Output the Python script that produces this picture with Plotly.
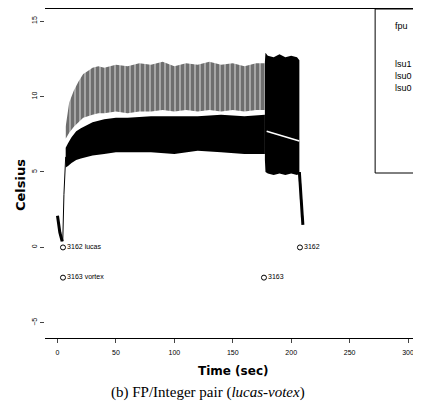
import plotly.graph_objects as go

# upper "spiky" layer (fpu samples), before vortex ends
t_upper = [7, 10, 14, 18, 22, 26, 30, 35, 40, 50, 60, 70, 80, 90, 100, 110, 120, 130, 140, 150, 160, 170, 177.5]
upper_top = [8.0, 9.6, 10.4, 11.0, 11.5, 11.7, 11.9, 12.0, 11.9, 12.1, 12.0, 12.2, 12.1, 12.3, 12.0, 12.2, 12.1, 12.3, 12.1, 12.2, 12.0, 12.2, 12.2]
upper_bottom = [7.2, 7.6, 8.0, 8.3, 8.6, 8.7, 8.8, 8.9, 8.9, 9.0, 8.9, 9.0, 9.0, 9.1, 9.0, 9.1, 9.0, 9.1, 9.0, 9.1, 9.0, 9.1, 9.1]

# lower dense band (lsu samples)
t_lower = [7, 9, 12, 16, 20, 25, 30, 40, 50, 60, 80, 100, 120, 140, 160, 177.5]
lower_top = [6.6, 6.9, 7.3, 7.7, 7.9, 8.1, 8.3, 8.5, 8.6, 8.6, 8.7, 8.7, 8.7, 8.8, 8.7, 8.8]
lower_bottom = [5.3, 5.4, 5.6, 5.8, 5.9, 6.0, 6.1, 6.2, 6.3, 6.3, 6.3, 6.2, 6.4, 6.3, 6.2, 6.2]

# lucas alone (after vortex exits)
t_solo = [177.5, 178, 180, 185, 190, 195, 200, 205, 207]
solo_top = [12.3, 12.9, 12.7, 12.6, 12.8, 12.6, 12.7, 12.6, 12.4]
solo_bottom = [5.8, 5.0, 4.9, 4.8, 4.9, 4.8, 4.9, 4.8, 4.9]
streak_t = [179, 207]
streak_T = [7.7, 7.05]

# warm-up / cool-down traces
spike_t = [0, 2, 4]
spike_T = [2.1, 1.0, 0.4]
rise_t = [4.5, 5.5, 7]
rise_T = [0.4, 3.5, 6.0]
tail_t = [207, 208, 209, 210]
tail_T = [5.0, 3.6, 2.5, 1.5]

# process start / end markers
event_t = [4.7, 4.7, 207.5, 176.7]
event_T = [0, -2, 0, -2]
event_label = ["3162 lucas", "3163 vortex", "3162", "3163"]

legend_names = ["fpu", "lsu1", "lsu0", "lsu0"]
legend_y = [0.948, 0.833, 0.796, 0.760]


def band(t, top, bottom):
    return list(t) + list(t)[::-1], list(top) + list(bottom)[::-1]


fig = go.Figure()

bx, by = band(t_upper, upper_top, upper_bottom)
fig.add_trace(go.Scatter(x=bx, y=by, fill="toself", mode="none", fillcolor="rgba(0,0,0,0)",
                         fillpattern=dict(shape="|", fgcolor="black", bgcolor="#dddddd", size=5, solidity=0.8),
                         showlegend=False))
bx, by = band(t_lower, lower_top, lower_bottom)
fig.add_trace(go.Scatter(x=bx, y=by, fill="toself", mode="none", fillcolor="black", showlegend=False))
bx, by = band(t_solo, solo_top, solo_bottom)
fig.add_trace(go.Scatter(x=bx, y=by, fill="toself", mode="none", fillcolor="black", showlegend=False))
fig.add_trace(go.Scatter(x=streak_t, y=streak_T, mode="lines", line=dict(color="white", width=1.5), showlegend=False))

fig.add_trace(go.Scatter(x=spike_t, y=spike_T, mode="lines", line=dict(color="black", width=3), showlegend=False))
fig.add_trace(go.Scatter(x=rise_t, y=rise_T, mode="lines", line=dict(color="black", width=1), showlegend=False))
fig.add_trace(go.Scatter(x=tail_t, y=tail_T, mode="lines", line=dict(color="black", width=3), showlegend=False))

fig.add_trace(go.Scatter(x=event_t, y=event_T, mode="markers+text", text=event_label, textposition="middle right",
                         marker=dict(symbol="circle-open", size=5, color="black", line=dict(width=1)),
                         textfont=dict(family="Liberation Sans", size=7, color="black"), showlegend=False))

fig.add_shape(type="rect", xref="paper", yref="paper", x0=0.878, x1=1.05, y0=0.5015, y1=1.0,
              line=dict(color="black", width=1))
for name, yy in zip(legend_names, legend_y):
    fig.add_annotation(x=0.925, y=yy, xref="paper", yref="paper", text=name, showarrow=False,
                       xanchor="left", yanchor="middle",
                       font=dict(family="Liberation Sans Narrow, Liberation Sans", size=9, color="black"))

fig.add_annotation(x=-0.0665, y=0.465, xref="paper", yref="paper", text="<b>Celsius</b>", textangle=-90,
                   showarrow=False, xanchor="center", yanchor="middle",
                   font=dict(family="DejaVu Sans", size=13, color="black"))
fig.add_annotation(x=0.5, y=-0.1003, xref="paper", yref="paper", text="<b>Time (sec)</b>", showarrow=False,
                   xanchor="center", yanchor="middle", font=dict(family="DejaVu Sans", size=12, color="black"))
fig.add_annotation(x=0.4335, y=-0.167, xref="paper", yref="paper",
                   text="(b) FP/Integer pair (<i>lucas-votex</i>)", showarrow=False,
                   xanchor="center", yanchor="middle", font=dict(family="Liberation Serif", size=15, color="black"))

fig.update_xaxes(range=[-10.7, 311.1], tickvals=[0, 50, 100, 150, 200, 250, 300], ticks="outside", ticklen=4,
                 showline=True, mirror=True, linecolor="black", linewidth=1, showgrid=False, zeroline=False,
                 tickfont=dict(family="Liberation Sans", size=7, color="black"), ticklabelstandoff=4)
fig.update_yaxes(range=[-6.0, 15.8], tickvals=[-5, 0, 5, 10, 15], ticks="outside", ticklen=4, tickangle=-90,
                 showline=False, showgrid=False, zeroline=False,
                 tickfont=dict(family="Liberation Sans", size=7, color="black"))
# page body adds an 8px offset, so the figure is 8px smaller than the window
fig.update_layout(width=413, height=405, margin=dict(l=37, r=0, t=1, b=75),
                  paper_bgcolor="white", plot_bgcolor="white", showlegend=False)

fig.write_html("out.html")
